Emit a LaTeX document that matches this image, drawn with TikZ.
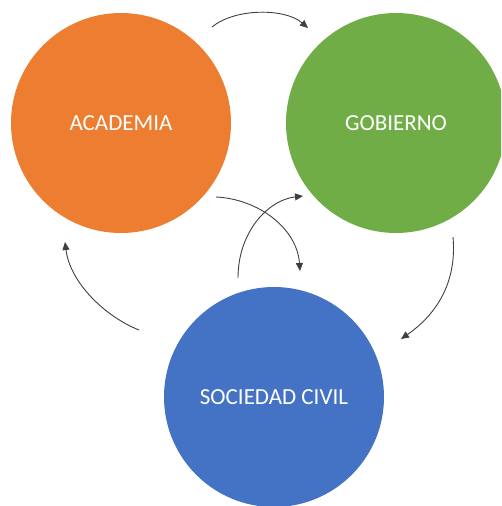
\documentclass[tikz,border=0pt]{standalone}
\usepackage{fontspec}
\setmainfont{Carlito}
\usetikzlibrary{arrows.meta}
\definecolor{acad}{HTML}{ED7D31}
\definecolor{gob}{HTML}{70AD47}
\definecolor{soc}{HTML}{4472C4}
\definecolor{arr}{HTML}{404040}
\tikzset{
  bubble/.style={circle, minimum size=220pt, inner sep=0pt, text=white, font=\fontsize{23}{27}\selectfont},
  flow/.style={draw=arr, line width=0.9pt, -{Triangle[length=8pt,width=7pt]}}
}
\begin{document}
\begin{tikzpicture}[x=1pt,y=-1pt]
\useasboundingbox (0,0) rectangle (501,506);
\begin{scope}
\clip (0,0) rectangle (501,506);
\node[bubble, fill=acad] (acad) at (121,123) {ACADEMIA};
\node[bubble, fill=gob] (gob) at (396,123) {GOBIERNO};
\node[bubble, fill=soc] (soc) at (274,397) {SOCIEDAD CIVIL};
\end{scope}
\coordinate (a1) at (212,27);  \coordinate (b1) at (308,28);
\coordinate (a2) at (216,197); \coordinate (b2) at (300,271);
\coordinate (a3) at (238,278); \coordinate (b3) at (303,196);
\coordinate (a4) at (453,237); \coordinate (b4) at (401,339);
\coordinate (a5) at (139,330); \coordinate (b5) at (65,242);
\draw[flow] (a1) .. controls (235,8) and (285,8) .. (b1);
\draw[flow] (a2) .. controls (258,199) and (297,228) .. (b2);
\draw[flow] (a3) .. controls (238,232) and (268,200) .. (b3);
\draw[flow] (a4) .. controls (457,282) and (437,314) .. (b4);
\draw[flow] (a5) .. controls (104,316) and (70,282) .. (b5);
\end{tikzpicture}
\end{document}
